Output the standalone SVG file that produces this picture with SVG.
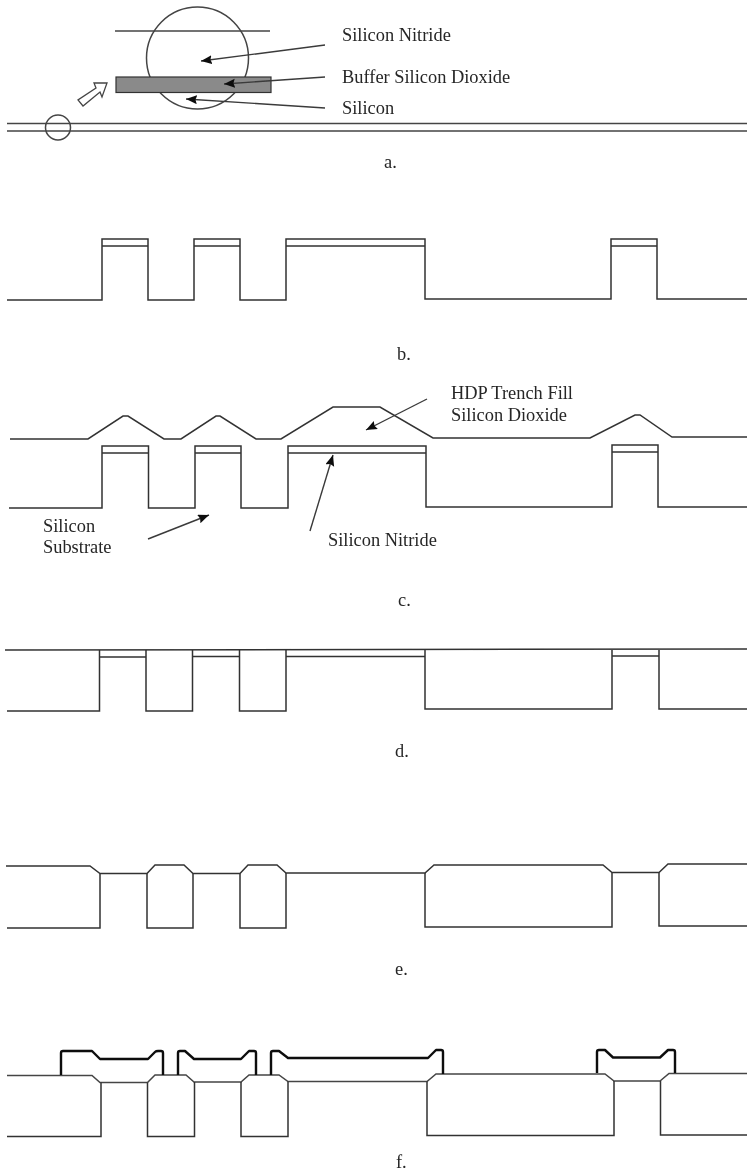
<svg xmlns="http://www.w3.org/2000/svg" width="747" height="1171" viewBox="0 0 747 1171">
<style>
.l{fill:none;stroke:#444;stroke-width:1.5}
.d{fill:none;stroke:#333;stroke-width:1.5}
.b{fill:none;stroke:#111;stroke-width:2.4;stroke-linejoin:round}
.a{fill:none;stroke:#3a3a3a;stroke-width:1.4}
text{font-family:"Liberation Serif","Times New Roman",serif;font-size:18.400px;fill:#262626}
</style>
<defs>
<filter id="soft" filterUnits="userSpaceOnUse" x="0" y="0" width="747" height="1171"><feGaussianBlur stdDeviation="0.45"/></filter>
<marker id="h" markerUnits="userSpaceOnUse" markerWidth="13" markerHeight="10" refX="11" refY="4.500" orient="auto"><path d="M0 0L11 4.500L0 9L1.500 4.500Z" fill="#111"/></marker>
</defs>
<rect width="747" height="1171" fill="#fff"/>
<g filter="url(#soft)">
<g id="panel-a">
<circle class="l" cx="197.500" cy="58" r="51"/>
<path class="l" d="M115 31H270"/>
<rect x="116" y="77" width="155" height="15.500" fill="#8a8a8a" stroke="#333" stroke-width="1.200"/>
<circle class="l" cx="58" cy="127.500" r="12.500"/>
<path class="l" d="M7 123.500H747M7 131H747"/>
<path d="M107 83L94 83L96 88L78 100L83 106L100 92L102 97Z" fill="#fff" stroke="#444" stroke-width="1.300"/>
<path class="a" marker-end="url(#h)" d="M325 45L201 61"/>
<path class="a" marker-end="url(#h)" d="M325 77L224 84"/>
<path class="a" marker-end="url(#h)" d="M325 108L186 99"/>
<text x="342" y="40.500">Silicon Nitride</text>
<text x="342" y="83">Buffer Silicon Dioxide</text>
<text x="342" y="114">Silicon</text>
<text x="384" y="168">a.</text>
</g>
<g id="panel-b">
<path class="d" d="M7 300H102V239H148V300H194V239H240V300H286V239H425V299H611V239H657V299H747"/>
<path class="d" d="M102 246H148M194 246H240M286 246H425M611 246H657"/>
<text x="397" y="360">b.</text>
</g>
<g id="panel-c">
<path class="d" d="M10 439H88L123 416H128L164 439H181L216 416H220L256 439H281L333 407H380L433 438H590L635 415H640L672 437H747"/>
<path class="d" d="M9 508H102V446H148.500V508H195V446H241V508H288V446H426V507H612V445H658V507H747"/>
<path class="d" d="M102 453H148.500M195 453H241M288 453H426M612 452H658"/>
<path class="a" marker-end="url(#h)" d="M427 399L366 430"/>
<path class="a" marker-end="url(#h)" d="M148 539L209 515"/>
<path class="a" marker-end="url(#h)" d="M310 531L333 455"/>
<text x="451" y="399">HDP Trench Fill</text>
<text x="451" y="421">Silicon Dioxide</text>
<text x="43" y="532">Silicon</text>
<text x="43" y="553">Substrate</text>
<text x="328" y="546">Silicon Nitride</text>
<text x="398" y="606">c.</text>
</g>
<g id="panel-d">
<path class="d" d="M5 650L747 649"/>
<path class="d" d="M7 711H99.500V650M146 650V711H192.500V650M239.500 650V711H286V650M425 650V709H612V650M659 650V709H747"/>
<path class="d" d="M99.500 657H146M192.500 656.500H239.500M286 656.500H425M612 656H659"/>
<text x="395" y="757">d.</text>
</g>
<g id="panel-e">
<path class="d" d="M6 866H90L100 873.500H147L155 865H184L193 873.500H240L248 865H277L286 873H425L434 865H603L612 872.500H659L668 864H747"/>
<path class="d" d="M7 928H100V873.500M147 873.500V928H193V873.500M240 873.500V928H286V873M425 873V927H612V872.500M659 872.500V926H747"/>
<text x="395" y="975">e.</text>
</g>
<g id="panel-f">
<path class="l" d="M7 1075.500H92L100 1082.500H147.500L155 1075H186L194 1082H241L249 1075H279L288 1081.500H427L436 1074H605L614 1081H660L669 1073.500H747"/>
<path class="d" d="M7 1136.500H101V1082.500M147.500 1082.500V1136.500H194.500V1082M241 1082V1136.500H288V1081.500M427 1081.500V1135.500H614V1081M660.500 1081V1135H747"/>
<path class="b" d="M61 1075V1053Q61 1051 63 1051H92L100 1059H148L155 1052Q156 1051 158 1051H161Q163 1051 163 1053V1075"/>
<path class="b" d="M178 1075V1053Q178 1051 180 1051H185L194 1059H241L249 1051H254Q256 1051 256 1053V1075"/>
<path class="b" d="M271 1075V1053Q271 1051 273 1051H279L288 1058H428L436 1050H441Q443 1050 443 1052V1074"/>
<path class="b" d="M597 1073V1052Q597 1050 599 1050H605L613 1057.500H660L668 1050H673Q675 1050 675 1052V1073"/>
<text x="396" y="1168">f.</text>
</g>
</g>
</svg>
